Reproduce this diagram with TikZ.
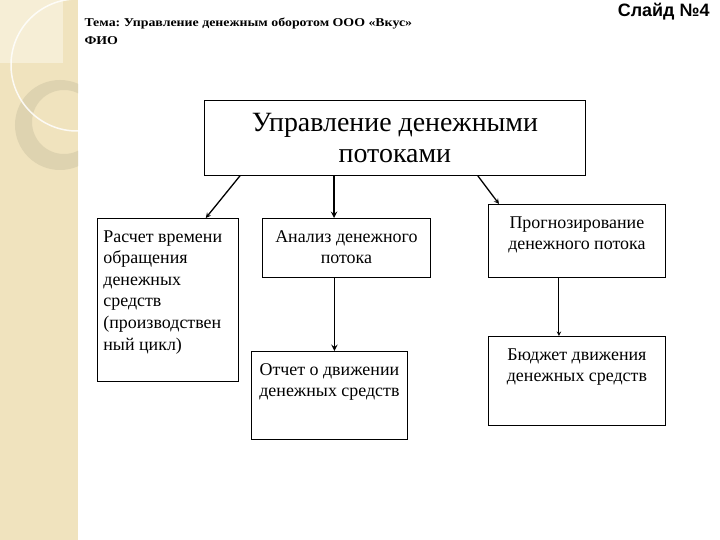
\documentclass[tikz,border=0pt]{standalone}
\usepackage{fontspec}
\setmainfont{Liberation Serif}
\setsansfont{Liberation Sans}
\newfontfamily\headfont[FakeStretch=1.16]{Liberation Serif}
\usetikzlibrary{arrows,positioning,calc}

\definecolor{stripcol}{RGB}{240,227,190}
\definecolor{stripsq}{RGB}{246,238,214}
\definecolor{ringcol}{RGB}{222,211,176}

\newcommand{\cell}[3]{\parbox[t][#2][t]{#1}{\vspace*{8bp}#3}}

\tikzset{
  box/.style={draw, line width=0.8pt, anchor=north west, inner xsep=6bp, inner ysep=4bp,
              font=\fontsize{18}{21.7}\selectfont},
  arr/.style={->, >=stealth, line width=1.3pt},
}

\begin{document}
\frenchspacing
\begin{tikzpicture}[x=1bp, y=-1bp]
  \useasboundingbox (0,0) rectangle (720,540);
  \fill[white] (0,0) rectangle (720,540);
  % left strip
  \fill[stripcol] (0,0) rectangle (78,540);
  \begin{scope}
    \clip (0,0) rectangle (78,540);
    \fill[stripsq] (0,0) rectangle (63,63);
    \fill[ringcol, even odd rule] (60,125) circle (45bp) (64,122) circle (32bp);
    \draw[white, line width=1.5pt, opacity=0.85] (77,65) circle (66bp);
  \end{scope}

  % header
  \node[anchor=base west, font=\headfont\bfseries\fontsize{12}{14}\selectfont] (topic) at (81,27)
    {Тема: Управление денежным оборотом ООО «Вкус»};
  \node[anchor=base west, font=\headfont\bfseries\fontsize{12}{14}\selectfont] (fio) at (81,45) {ФИО};
  \node[anchor=base east, font=\sffamily\bfseries\fontsize{18}{21}\selectfont] (slide) at (713,17)
    {Слайд №4};

  % boxes
  \node[draw, line width=0.8pt, anchor=north west, minimum width=381bp, minimum height=75bp,
        align=center, inner sep=0pt, font=\fontsize{28}{31}\selectfont] (flows) at (204,100)
    {Управление денежными\\потоками};
  \node[box] (cycle) at (97,218)
    {\cell{129bp}{155bp}{\raggedright Расчет времени\\обращения\\денежных\\средств\\(производствен\\ный цикл)}};
  \node[box] (analysis) at (262,218)
    {\cell{156bp}{51bp}{\centering Анализ денежного\\потока}};
  \node[box] (report) at (251,351)
    {\cell{144bp}{80bp}{\centering Отчет о движении\\денежных средств}};
  \node[box] (forecast) at (488,204)
    {\cell{165bp}{65bp}{\centering Прогнозирование\\денежного потока}};
  \node[box] (budget) at (488,336)
    {\cell{165bp}{81bp}{\centering Бюджет движения\\денежных средств}};

  % arrows
  \draw[arr] ([xshift=36bp]flows.south west) -- ([xshift=-33bp]cycle.north east);
  \draw[arr, line width=1.8pt] ([xshift=130bp]flows.south west) -- ([xshift=72bp]analysis.north west);
  \draw[arr] ([xshift=-108bp]flows.south east) -- ([xshift=11bp]forecast.north west);
  \draw[arr, line width=1.8pt] ([xshift=-12bp]analysis.south) -- ([xshift=-12bp]analysis.south |- report.north);
  \draw[arr, line width=1pt] ([xshift=-18bp]forecast.south) -- ([xshift=-18bp]forecast.south |- budget.north);
\end{tikzpicture}
\end{document}
